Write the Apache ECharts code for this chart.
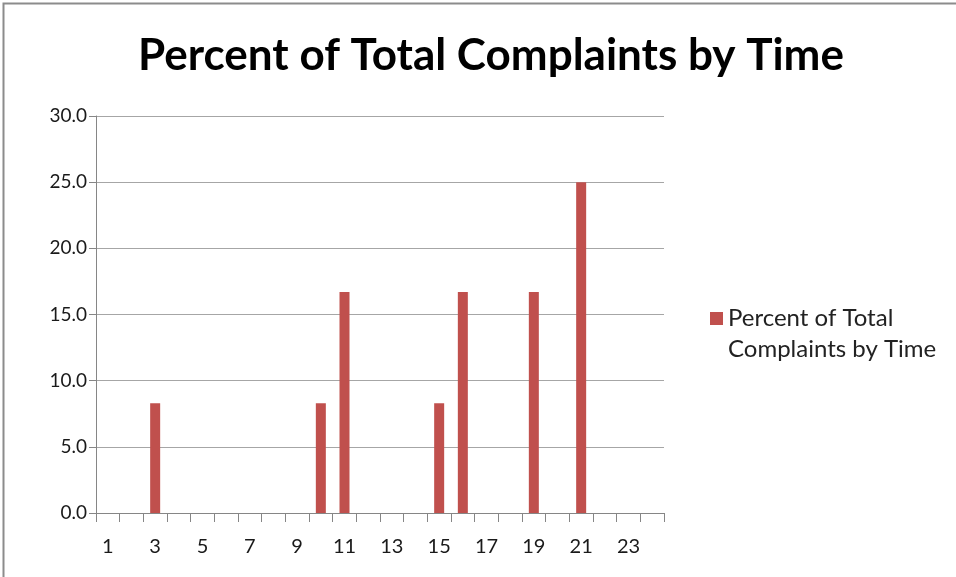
<!DOCTYPE html>
<html>
<head>
<meta charset="utf-8">
<script src="https://cdn.jsdelivr.net/npm/echarts@6/dist/echarts.min.js"></script>
<style>
html,body{margin:0;padding:0;background:#fff;}
#main{width:956px;height:577px;}
</style>
</head>
<body>
<div id="main"></div>
<script>
// hours of the day
var hours = ['1','2','3','4','5','6','7','8','9','10','11','12','13','14','15','16','17','18','19','20','21','22','23','24'];
// percent of complaints per hour
var percents = [0,0,8.3,0,0,0,0,0,0,8.3,16.7,0,0,0,8.3,16.7,0,0,16.7,0,25.0,0,0,0];
var seriesName = 'Percent of Total Complaints by Time';
var chartTitle = 'Percent of Total Complaints by Time';

var myChart = echarts.init(document.getElementById('main'));
var font = 'Lato, "Open Sans", sans-serif';
var option = {
	backgroundColor: '#fff',
	animation: false,
	graphic: [{
		type: 'rect',
		shape: {x: 3.5, y: 3.5, width: 980, height: 600},
		style: {fill: 'none', stroke: '#8c8c8c', lineWidth: 2},
		silent: true
	}],
	title: {
		text: chartTitle,
		left: 486,
		textAlign: 'center',
		top: 29,
		textStyle: {fontFamily: font, fontSize: 44, fontWeight: 'bold', color: '#000'}
	},
	legend: {
		left: 705,
		top: 267,
		itemWidth: 13,
		itemHeight: 13,
		icon: 'rect',
		itemGap: 8,
		// blank first line keeps the marker level with the first text line
		formatter: function () { return '\nPercent of Total\nComplaints by Time'; },
		textStyle: {fontFamily: font, fontSize: 24, color: '#222', lineHeight: 31},
		data: [seriesName]
	},
	grid: {left: 96, top: 116, width: 568, height: 397, containLabel: false},
	xAxis: {
		type: 'category',
		data: hours,
		boundaryGap: true,
		axisLine: {lineStyle: {color: '#868686', width: 1}},
		axisTick: {show: true, interval: 0, length: 9, lineStyle: {color: '#868686'}},
		axisLabel: {interval: 1, margin: 24, fontFamily: font, fontSize: 20, color: '#1a1a1a'}
	},
	yAxis: {
		type: 'value',
		min: 0,
		max: 30,
		interval: 5,
		axisLine: {show: true, lineStyle: {color: '#868686'}},
		axisTick: {show: true, length: 7, lineStyle: {color: '#868686'}},
		axisLabel: {margin: 9, fontFamily: font, fontSize: 19, color: '#1a1a1a',
			formatter: function (v) { return v.toFixed(1); }},
		splitLine: {lineStyle: {color: '#a6a6a6', width: 1}}
	},
	series: [{
		name: seriesName,
		type: 'bar',
		data: percents,
		barWidth: 10,
		itemStyle: {color: '#C0504D'}
	}]
};
myChart.setOption(option);
</script>
</body>
</html>
